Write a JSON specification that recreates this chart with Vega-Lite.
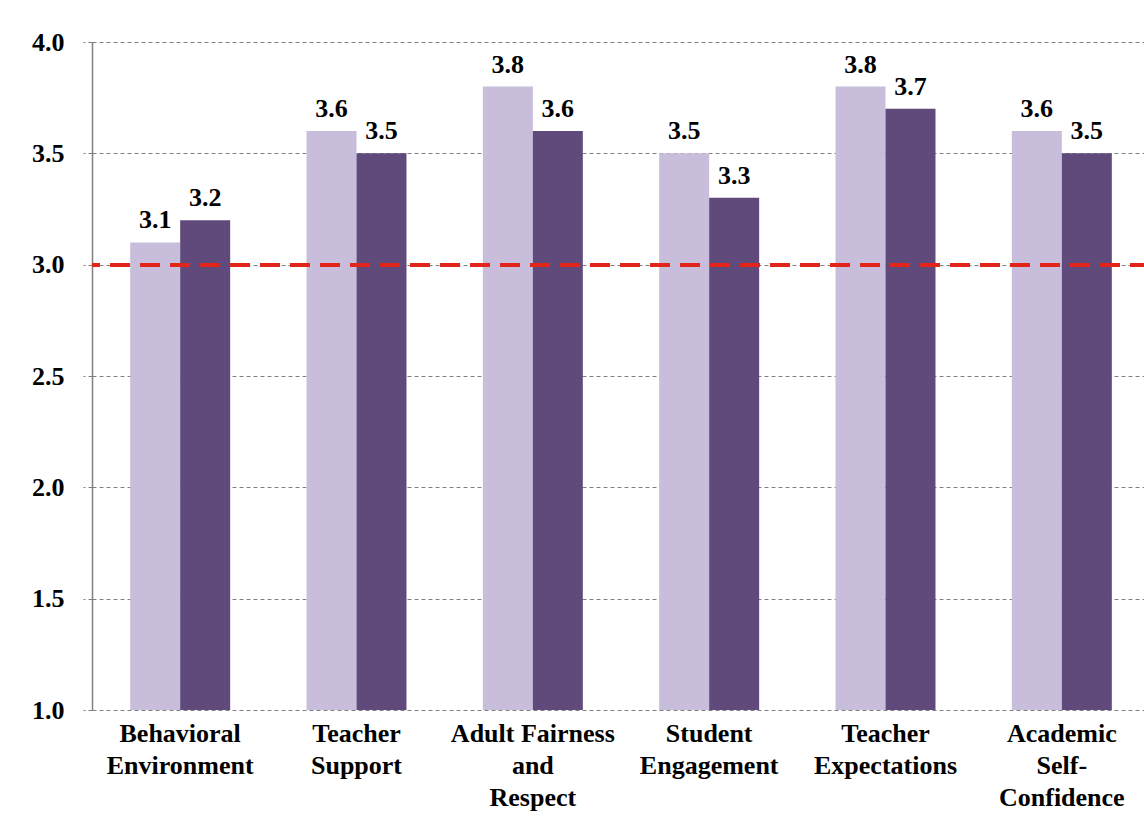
{
  "$schema": "https://vega.github.io/schema/vega-lite/v6.json",
  "autosize": "none",
  "padding": {"left": 92, "top": 42, "right": 0, "bottom": 125},
  "width": 1058,
  "height": 668,
  "background": "white",
  "config": {
    "view": {"stroke": null},
    "font": "Liberation Serif"
  },
  "data": {
    "values": [
      {"category": "Behavioral|Environment", "series": "Group 1", "value": 3.1},
      {"category": "Behavioral|Environment", "series": "Group 2", "value": 3.2},
      {"category": "Teacher|Support", "series": "Group 1", "value": 3.6},
      {"category": "Teacher|Support", "series": "Group 2", "value": 3.5},
      {"category": "Adult Fairness|and|Respect", "series": "Group 1", "value": 3.8},
      {"category": "Adult Fairness|and|Respect", "series": "Group 2", "value": 3.6},
      {"category": "Student|Engagement", "series": "Group 1", "value": 3.5},
      {"category": "Student|Engagement", "series": "Group 2", "value": 3.3},
      {"category": "Teacher|Expectations", "series": "Group 1", "value": 3.8},
      {"category": "Teacher|Expectations", "series": "Group 2", "value": 3.7},
      {"category": "Academic|Self-|Confidence", "series": "Group 1", "value": 3.6},
      {"category": "Academic|Self-|Confidence", "series": "Group 2", "value": 3.5}
    ]
  },
  "encoding": {
    "x": {
      "field": "category",
      "type": "nominal",
      "sort": null,
      "scale": {"paddingInner": 0.433, "paddingOuter": 0.2165},
      "axis": {
        "title": null,
        "labelAngle": 0,
        "domain": false,
        "ticks": false,
        "labelExpr": "split(datum.label, '|')",
        "labelFont": "Liberation Serif",
        "labelFontSize": 26,
        "labelFontWeight": "bold",
        "labelColor": "#000000",
        "labelLineHeight": 32,
        "labelPadding": 10,
        "labelBaseline": "top"
      }
    },
    "xOffset": {"field": "series", "type": "nominal", "scale": {"paddingInner": 0, "paddingOuter": 0}},
    "y": {
      "field": "value",
      "type": "quantitative",
      "scale": {"domain": [1, 4], "nice": false, "zero": false},
      "axis": {
        "title": null,
        "values": [1, 1.5, 2, 2.5, 3, 3.5, 4],
        "format": ".1f",
        "labelFont": "Liberation Serif",
        "labelFontSize": 26,
        "labelFontWeight": "bold",
        "labelColor": "#000000",
        "labelPadding": 19,
        "tickSize": 9,
        "tickColor": "#808080",
        "tickDash": [4, 3],
        "domainColor": "#808080",
        "domainWidth": 1.5,
        "grid": true,
        "gridColor": "#808080",
        "gridDash": [4, 3],
        "gridWidth": 1
      }
    }
  },
  "layer": [
    {
      "mark": {"type": "bar", "stroke": null},
      "encoding": {
        "y2": {"datum": 1},
        "color": {
          "field": "series",
          "type": "nominal",
          "scale": {"domain": ["Group 1", "Group 2"], "range": ["#C8BEDB", "#5F4A7B"]},
          "legend": null
        }
      }
    },
    {
      "mark": {"type": "text", "baseline": "alphabetic", "dy": -14, "fontSize": 26, "fontWeight": "bold", "font": "Liberation Serif", "color": "#000000"},
      "encoding": {
        "text": {"field": "value", "type": "quantitative", "format": ".1f"}
      }
    },
    {
      "mark": {"type": "rule", "color": "#E3241B", "strokeWidth": 3.5, "strokeDash": [20, 10]},
      "encoding": {
        "y": {"datum": 3},
        "x": null,
        "xOffset": null
      }
    }
  ]
}
